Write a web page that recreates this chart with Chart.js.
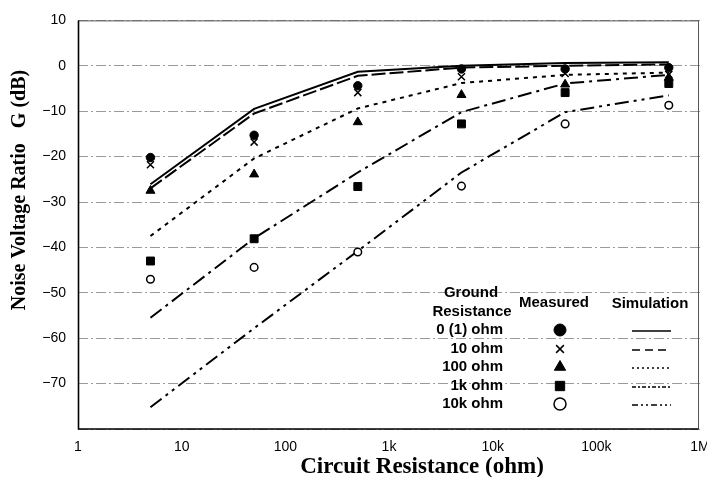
<!DOCTYPE html>
<html>
<head>
<meta charset="utf-8">
<script src="https://cdn.jsdelivr.net/npm/chart.js@4.4.1/dist/chart.umd.min.js"></script>
<style>
  html, body { margin: 0; padding: 0; background: #fff; }
  #wrap { width: 707px; height: 477px; }
</style>
</head>
<body>
<div id="wrap"><canvas id="c" width="707" height="477"></canvas></div>
<script>
// ---- data ----
const circuitResistance = [5, 50, 500, 5000, 50000, 500000];
const groundLabels = ['0 (1) ohm', '10 ohm', '100 ohm', '1k ohm', '10k ohm'];

const measured0   = [-20.2, -15.3, -4.4, -0.7, -0.7, -0.4];
const measured10  = [-21.8, -16.8, -5.9, -2.4, -1.7, -1.9];
const measured100 = [-27.5, -23.9, -12.4, -6.4, -4.1, -2.6];
const measured1k  = [-43.0, -38.1, -26.6, -12.8, -5.9, -3.9];
const measured10k = [-47.0, -44.4, -41.0, -26.5, -12.8, -8.7];

const sim0   = [-26.1, -9.5, -1.3, 0.0, 0.6, 0.8];
const sim10  = [-27.0, -10.5, -2.2, -0.4, 0.0, 0.3];
const sim100 = [-37.5, -20.4, -9.4, -3.8, -2.0, -1.5];
const sim1k  = [-55.5, -38.0, -23.5, -10.2, -3.9, -2.0];
const sim10k = [-75.2, -57.8, -40.8, -23.5, -10.2, -6.5];

const xTickValues = [1, 10, 100, 1000, 10000, 100000, 1000000];
const xTickLabels = ['1', '10', '100', '1k', '10k', '100k', '1M'];
const yMin = -80, yMax = 10, yStep = 10;

const xTitle = 'Circuit Resistance (ohm)';
const yTitle = 'Noise Voltage Ratio   G (dB)';
const legendHeaders = ['Ground', 'Resistance', 'Measured', 'Simulation'];

// ---- styles ----
const measuredSeries = [measured0, measured10, measured100, measured1k, measured10k];
const simSeries = [sim0, sim10, sim100, sim1k, sim10k];
const markerStyles = [
  { style: 'circle', r: 4.2, fill: '#000', stroke: '#000', bw: 1, lr: 6 },
  { style: 'crossRot', r: 5, fill: '#000', stroke: '#000', bw: 1.5, lr: 5.5 },
  { style: 'triangle', r: 5.2, fill: '#000', stroke: '#000', bw: 1, lr: 6.5 },
  { style: 'rect', r: 5.6, fill: '#000', stroke: '#000', bw: 1, lr: 6.6 },
  { style: 'circle', r: 3.8, fill: '#fff', stroke: '#000', bw: 1.5, lr: 6 }
];
const lineDashes = [
  [],
  [14, 4],
  [4, 5],
  [14, 5, 3, 5],
  [14, 5, 3, 5, 3, 5]
];

function pts(ys) { return circuitResistance.map((x, i) => ({ x: x, y: ys[i] })); }

const datasets = [];
measuredSeries.forEach((ys, i) => {
  const m = markerStyles[i];
  datasets.push({
    label: 'Measured ' + groundLabels[i],
    data: pts(ys),
    showLine: false,
    pointStyle: m.style,
    pointRadius: m.r,
    pointHoverRadius: m.r,
    pointBackgroundColor: m.fill,
    pointBorderColor: m.stroke,
    pointBorderWidth: m.bw
  });
});
simSeries.forEach((ys, i) => {
  datasets.push({
    label: 'Simulation ' + groundLabels[i],
    data: pts(ys),
    showLine: true,
    borderColor: '#000',
    borderWidth: 2,
    borderDash: lineDashes[i],
    pointRadius: 0,
    pointHoverRadius: 0,
    fill: false,
    tension: 0
  });
});

function drawMarker(ctx, m, x, y, r) {
  ctx.save();
  ctx.fillStyle = m.fill;
  ctx.strokeStyle = m.stroke;
  ctx.lineWidth = m.bw;
  ctx.setLineDash([]);
  ctx.beginPath();
  if (m.style === 'circle') {
    ctx.arc(x, y, r, 0, Math.PI * 2);
    ctx.fill(); ctx.stroke();
  } else if (m.style === 'crossRot') {
    const d = r * Math.SQRT1_2;
    ctx.moveTo(x - d, y - d); ctx.lineTo(x + d, y + d);
    ctx.moveTo(x + d, y - d); ctx.lineTo(x - d, y + d);
    ctx.stroke();
  } else if (m.style === 'triangle') {
    for (let k = 0; k < 3; k++) {
      const a = k * 2 * Math.PI / 3;
      const px = x + Math.sin(a) * r, py = y - Math.cos(a) * r;
      if (k === 0) ctx.moveTo(px, py); else ctx.lineTo(px, py);
    }
    ctx.closePath(); ctx.fill(); ctx.stroke();
  } else if (m.style === 'rect') {
    const s = r * Math.SQRT1_2;
    ctx.rect(x - s, y - s, 2 * s, 2 * s);
    ctx.fill(); ctx.stroke();
  }
  ctx.restore();
}

const decorPlugin = {
  id: 'decor',
  afterDraw(chart) {
    const ctx = chart.ctx;
    const a = chart.chartArea;
    ctx.save();
    // frame
    ctx.setLineDash([]);
    ctx.strokeStyle = '#555';
    ctx.lineWidth = 1;
    ctx.beginPath();
    ctx.moveTo(a.left, a.top + 0.5); ctx.lineTo(a.right - 1.5, a.top + 0.5);
    ctx.moveTo(a.right - 1.5, a.top); ctx.lineTo(a.right - 1.5, a.bottom);
    ctx.stroke();
    ctx.strokeStyle = '#000';
    ctx.lineWidth = 1.6;
    ctx.beginPath();
    ctx.moveTo(a.left + 0.5, a.top); ctx.lineTo(a.left + 0.5, a.bottom);
    ctx.lineTo(a.right - 1.5, a.bottom);
    ctx.stroke();

    // axis titles
    ctx.fillStyle = '#000';
    ctx.textAlign = 'center';
    ctx.textBaseline = 'middle';
    ctx.font = 'bold 23px "Liberation Serif", "Times New Roman", serif';
    ctx.fillText(xTitle, 422, 467);
    ctx.save();
    ctx.translate(20, 190);
    ctx.rotate(-Math.PI / 2);
    ctx.font = 'bold 20px "Liberation Serif", "Times New Roman", serif';
    ctx.fillText(yTitle, 0, 0);
    ctx.restore();

    // legend table
    ctx.font = 'bold 15px "Liberation Sans", Arial, sans-serif';
    ctx.textAlign = 'center';
    ctx.fillText(legendHeaders[0], 471, 293);
    ctx.fillText(legendHeaders[1], 472, 312);
    ctx.fillText(legendHeaders[2], 554, 303);
    ctx.fillText(legendHeaders[3], 650, 304);
    const rowY = [330, 349, 367, 386, 404];
    ctx.textAlign = 'right';
    groundLabels.forEach((lab, i) => {
      ctx.fillStyle = '#000';
      ctx.fillText(lab, 503, rowY[i]);
      const m = markerStyles[i];
      drawMarker(ctx, m, 560, rowY[i], m.lr);
      ctx.save();
      ctx.strokeStyle = '#000';
      ctx.lineWidth = 1.6;
      ctx.setLineDash(i === 0 ? [] : (i === 1 ? [8, 5] : (i === 2 ? [2, 3] : (i === 3 ? [4, 2, 2, 2] : [6, 3, 2, 3, 2, 3]))));
      ctx.beginPath();
      ctx.moveTo(632, rowY[i] + 1);
      ctx.lineTo(671, rowY[i] + 1);
      ctx.stroke();
      ctx.restore();
    });
    ctx.restore();
  }
};

new Chart(document.getElementById('c'), {
  type: 'scatter',
  data: { datasets: datasets },
  options: {
    responsive: false,
    animation: false,
    devicePixelRatio: 1,
    layout: { padding: { top: 16, right: 7, left: 0, bottom: 0 } },
    plugins: { legend: { display: false }, tooltip: { enabled: false }, title: { display: false } },
    scales: {
      x: {
        type: 'logarithmic',
        min: 1,
        max: 1000000,
        afterBuildTicks(scale) { scale.ticks = xTickValues.map(v => ({ value: v })); },
        afterFit(scale) { scale.height = 48; scale.paddingLeft = 0; scale.paddingRight = 0; },
        grid: { display: false, drawTicks: false },
        border: { display: false },
        ticks: {
          autoSkip: false,
          maxRotation: 0,
          padding: 10,
          color: '#000',
          font: { family: '"Liberation Sans", Arial, sans-serif', size: 14 },
          callback(v) { const i = xTickValues.indexOf(v); return i >= 0 ? xTickLabels[i] : ''; }
        }
      },
      y: {
        type: 'linear',
        min: yMin,
        max: yMax,
        afterFit(scale) { scale.width = 78; },
        grid: { color: '#9a9a9a', lineWidth: 1, drawTicks: false },
        border: { display: false, dash: [10, 3, 2, 3] },
        ticks: {
          stepSize: yStep,
          padding: 12,
          color: '#000',
          font: { family: '"Liberation Sans", Arial, sans-serif', size: 14 },
          callback(v) { return v === yMin ? '' : String(v).replace('-', '\u2212'); }
        }
      }
    }
  },
  plugins: [decorPlugin]
});
</script>
</body>
</html>
